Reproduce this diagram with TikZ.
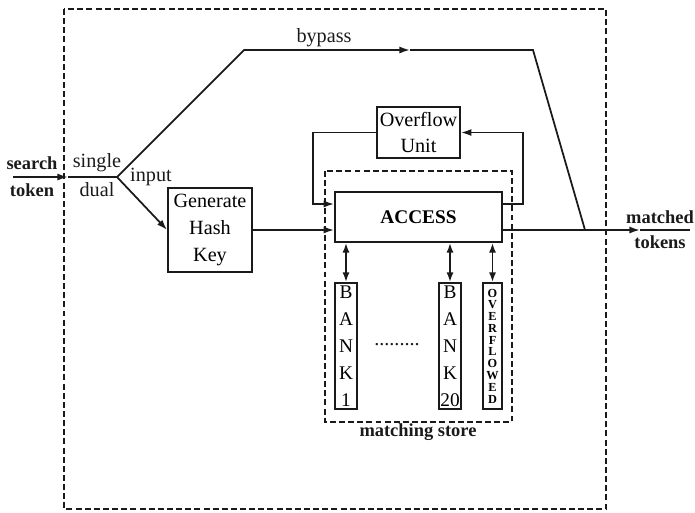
\documentclass[tikz,border=0pt]{standalone}
\usepackage{fontspec}
\setmainfont{Liberation Serif}
\usepackage{tikz}
\usetikzlibrary{positioning,arrows.meta,calc}
\definecolor{ctinta}{HTML}{1A1A1A}
\tikzset{
  bloque/.style={rectangle, draw=ctinta, line width=1pt, align=center,
    inner sep=0pt, font=\fontsize{11.5}{15.3}\selectfont},
  banco/.style={rectangle, draw=ctinta, line width=1pt, align=center,
    inner sep=0pt, minimum width=0.44cm, minimum height=2.52cm,
    font=\fontsize{11}{15.3}\selectfont},
  flecha/.style={-{Latex[length=6pt,width=4pt]}, line width=1pt, draw=ctinta},
  dflecha/.style={{Latex[length=5.5pt,width=4pt]}-{Latex[length=5.5pt,width=4pt]},
    line width=1.1pt, draw=ctinta},
  linea/.style={line width=1pt, draw=ctinta},
  marco/.style={draw=ctinta, line width=1.1pt, dash pattern=on 3.4pt off 1.8pt},
  etq/.style={font=\fontsize{11.5}{13}\selectfont, text=ctinta, inner sep=0pt},
  etqb/.style={etq, font=\fontsize{10.5}{13}\selectfont\bfseries},
}
\begin{document}
\begin{tikzpicture}[x=0.02cm, y=-0.02cm]
  \useasboundingbox (0,0) rectangle (695,512);
  % frames
  \draw[marco] (64,9) rectangle (606,509);
  \draw[marco] (325,171) rectangle (512,422);
  \node[etqb] (store) at (418,432) {matching store};

  % blocks
  \node[bloque, minimum width=1.68cm, minimum height=1.68cm] (gen) at (210,230) {Generate\\Hash\\Key};
  \node[bloque, minimum width=3.34cm, minimum height=1cm,
    font=\fontsize{11}{13}\selectfont\bfseries] (access) at (418.5,217) {ACCESS};
  \node[bloque, minimum width=1.66cm, minimum height=1.02cm] (ovf) at (418.5,132.5) {Overflow\\Unit};
  \node[banco] (bank1) at (346,346) {B\\A\\N\\K\\1};
  \node[banco] (bank20) at (450,346) {B\\A\\N\\K\\20};
  \node[banco, minimum width=0.38cm, font=\fontsize{7}{6.7}\selectfont\bfseries] (ovfd) at (492.5,346) {O\\V\\E\\R\\F\\L\\O\\W\\E\\D};
  \node[etq] (dots) at (397,345) {.........};

  % path points
  \coordinate (src) at (13,177);
  \coordinate (borde) at (68,177);
  \coordinate (jn) at (117,177);
  \coordinate (bp1) at (244,50);
  \coordinate (bpm) at (410,50);
  \coordinate (bp2) at (533,50);
  \coordinate (bpj) at (585,230);
  \coordinate (outm) at (640,230);
  \coordinate (dst) at (690,230);
  \coordinate (lazoi) at (313,204);
  \coordinate (lazod) at (523,204);

  % connectors
  \draw[flecha] (src) -- (borde);
  \draw[linea] (borde) -- (jn);
  \draw[flecha] (jn) -- (gen.west);
  \draw[flecha] (jn) -- (bp1) -- (bpm);
  \draw[linea] (bpm) -- (bp2) -- (bpj);
  \draw[flecha] (gen.east) -- (gen.east -| access.west);
  \draw[flecha] (access.east |- gen.east) -- (outm);
  \draw[linea] (outm) -- (dst);
  \draw[flecha] (ovf.west) -| (lazoi) -- (lazoi -| access.west);
  \draw[flecha] (lazod -| access.east) -- (lazod) |- (ovf.east);
  \foreach \b in {bank1,bank20,ovfd}
    \draw[dflecha] (\b.north) -- (\b.north |- access.south);

  % labels
  \node[etqb] (search) at (32,163) {search};
  \node[etqb] (token) at (32,190) {token};
  \node[etq] (single) at (97,163) {single};
  \node[etq] (dual) at (97,190) {dual};
  \node[etq] (input) at (151,177) {input};
  \node[etq] (bypass) at (324,38) {bypass};
  \node[etqb] (matched) at (660,217) {matched};
  \node[etqb] (tokens) at (660,242) {tokens};
\end{tikzpicture}
\end{document}
